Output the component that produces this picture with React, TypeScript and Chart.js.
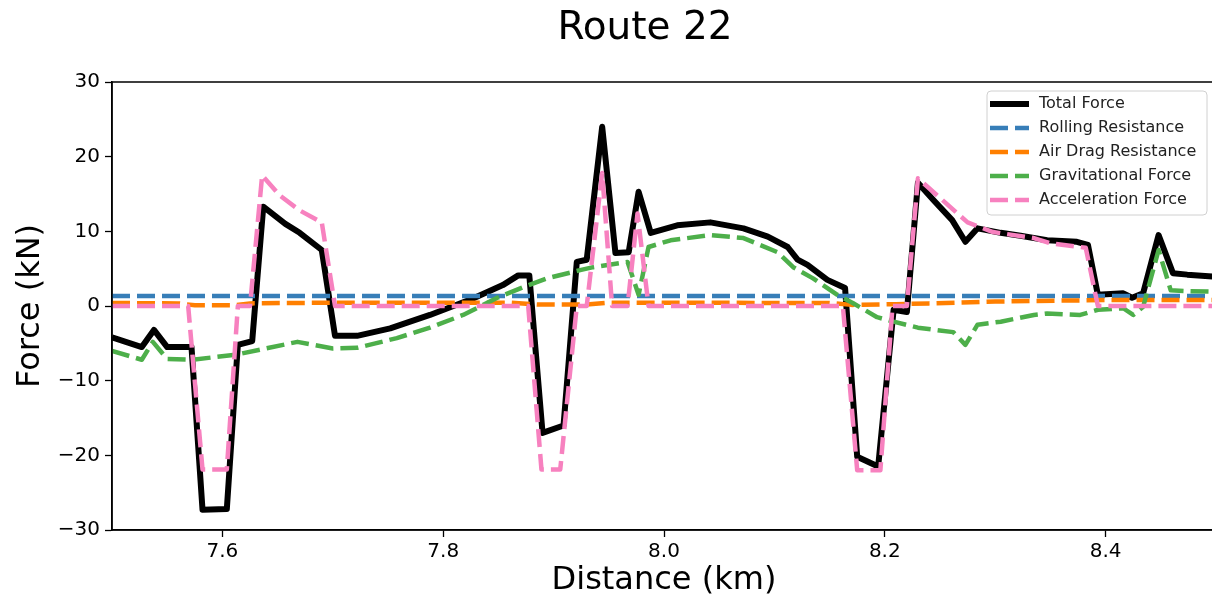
import React, { useEffect, useRef } from "react";
import { Chart, registerables } from "chart.js";

Chart.register(...registerables);

const chartTitle = "Route 22";
const xAxisTitle = "Distance (km)";
const yAxisTitle = "Force (kN)";
const xTicks = [7.6, 7.8, 8.0, 8.2, 8.4];
const yTicks = [-30, -20, -10, 0, 10, 20, 30];
const seriesNames = [
  "Total Force",
  "Rolling Resistance",
  "Air Drag Resistance",
  "Gravitational Force",
  "Acceleration Force",
];

const totalDist = [
  7.5, 7.527, 7.538, 7.55, 7.572, 7.582, 7.604, 7.614, 7.627, 7.637, 7.657, 7.67, 7.69,
  7.702, 7.722, 7.752, 7.788, 7.827, 7.854, 7.868, 7.878, 7.89, 7.909, 7.921, 7.93, 7.944,
  7.956, 7.968, 7.977, 7.988, 8.012, 8.042, 8.072, 8.094, 8.112, 8.121, 8.13, 8.148, 8.164,
  8.175, 8.194, 8.208, 8.22, 8.23, 8.244, 8.261, 8.273, 8.284, 8.305, 8.323, 8.347, 8.374,
  8.384, 8.393, 8.416, 8.424, 8.434, 8.448, 8.461, 8.474, 8.5,
];
const totalForce = [
  -4.2, -5.5, -3.2, -5.5, -5.5, -27.3, -27.2, -5.2, -4.7, 13.3, 11.0, 9.8, 7.5,
  -4.0, -4.0, -3.0, -1.2, 1.0, 2.8, 4.1, 4.1, -17.0, -16.0, 5.9, 6.2, 24.0,
  7.1, 7.2, 15.3, 9.8, 10.8, 11.2, 10.4, 9.3, 7.9, 6.2, 5.5, 3.5, 2.4,
  -20.2, -21.5, -0.5, -0.8, 16.5, 14.2, 11.5, 8.6, 10.4, 9.8, 9.4, 8.8, 8.6,
  8.2, 1.5, 1.7, 1.1, 1.7, 9.5, 4.4, 4.2, 3.9,
];

const rollingDist = [7.5, 8.5];
const rollingForce = [1.35, 1.35];

const airDist = [
  7.5, 7.56, 7.575, 7.61, 7.625, 7.7, 7.86, 7.885, 7.93, 7.95, 8.15, 8.17, 8.21, 8.24,
  8.3, 8.4, 8.5,
];
const airForce = [
  0.4, 0.35, 0.1, 0.1, 0.35, 0.45, 0.45, 0.2, 0.2, 0.45, 0.4, 0.15, 0.25, 0.35, 0.6,
  0.8, 0.8,
];

const gravDist = [
  7.5, 7.527, 7.537, 7.55, 7.573, 7.613, 7.668, 7.7, 7.722, 7.758, 7.788, 7.818, 7.849,
  7.862, 7.872, 7.894, 7.924, 7.936, 7.967, 7.977, 7.986, 8.006, 8.042, 8.072, 8.103,
  8.117, 8.135, 8.157, 8.171, 8.193, 8.208, 8.23, 8.262, 8.273, 8.284, 8.305, 8.335,
  8.347, 8.377, 8.393, 8.416, 8.425, 8.434, 8.448, 8.459, 8.474, 8.5,
];
const gravForce = [
  -6.0, -7.2, -4.8, -7.1, -7.2, -6.5, -4.8, -5.7, -5.6, -4.3, -2.9, -1.2, 1.1,
  1.9, 2.5, 3.7, 4.8, 5.2, 5.9, 1.5, 7.9, 8.8, 9.5, 9.1, 7.2,
  5.2, 3.7, 1.5, 0.4, -1.5, -2.1, -2.9, -3.5, -5.2, -2.5, -2.1, -1.2,
  -1.0, -1.2, -0.5, -0.3, -1.2, -0.1, 7.5, 2.1, 2.0, 1.9,
];

const accelDist = [
  7.5, 7.569, 7.582, 7.604, 7.614, 7.625, 7.636, 7.652, 7.67, 7.69, 7.702, 7.877, 7.889,
  7.906, 7.921, 7.93, 7.944, 7.953, 7.967, 7.976, 7.986, 8.162, 8.175, 8.196, 8.207,
  8.22, 8.23, 8.275, 8.298, 8.335, 8.35, 8.382, 8.393, 8.5,
];
const accelForce = [
  0, 0, -21.9, -21.9, 0, 0, 17.5, 14.8, 12.8, 11.2, 0, 0, -21.9,
  -21.9, 0, 0, 17.8, 0, 0, 12.4, 0, 0, -22, -22, 0,
  0, 17.1, 11.2, 9.9, 9.1, 8.4, 7.8, 0, 0,
];

const FONT = '"DejaVu Sans", "Liberation Sans", sans-serif';

const toPoints = (xs: number[], ys: number[]) => xs.map((x, i) => ({ x, y: ys[i] }));

const spinesPlugin = {
  id: "spines",
  afterDatasetsDraw(chart: any) {
    const { ctx, chartArea: a } = chart;
    ctx.save();
    ctx.strokeStyle = "#000";
    ctx.lineWidth = 1.5;
    ctx.beginPath();
    ctx.moveTo(a.left, a.bottom);
    ctx.lineTo(a.left, a.top);
    ctx.lineTo(a.right, a.top);
    ctx.lineTo(a.right, a.bottom);
    ctx.lineTo(a.left, a.bottom);
    ctx.stroke();
    ctx.restore();
  },
};

// Figure-level title (centred on the original, wider figure)
const figureTitlePlugin = {
  id: "figureTitle",
  afterDraw(chart: any) {
    const { ctx } = chart;
    ctx.save();
    ctx.font = `39px ${FONT}`;
    ctx.fillStyle = "#000";
    ctx.textAlign = "center";
    ctx.textBaseline = "middle";
    ctx.fillText(chartTitle, 645, 29);
    ctx.restore();
  },
};

const boxLegendPlugin = {
  id: "boxLegend",
  afterDraw(chart: any) {
    const { ctx, chartArea: a } = chart;
    const datasets = chart.data.datasets;
    const w = 220;
    const h = 124;
    const x0 = a.right - 9 - w;
    const y0 = a.top + 9;
    ctx.save();
    ctx.beginPath();
    ctx.roundRect(x0, y0, w, h, 4);
    ctx.fillStyle = "rgba(255,255,255,0.85)";
    ctx.fill();
    ctx.strokeStyle = "#d0d0d0";
    ctx.lineWidth = 1;
    ctx.stroke();
    ctx.font = `16px ${FONT}`;
    ctx.textBaseline = "middle";
    ctx.textAlign = "left";
    datasets.forEach((ds: any, i: number) => {
      const y = y0 + 13 + i * 24;
      ctx.save();
      ctx.strokeStyle = ds.borderColor;
      ctx.lineWidth = ds.borderWidth;
      ctx.setLineDash(ds.borderDash || []);
      ctx.lineCap = "butt";
      ctx.beginPath();
      ctx.moveTo(x0 + 3, y);
      ctx.lineTo(x0 + 42, y);
      ctx.stroke();
      ctx.restore();
      ctx.fillStyle = "#222";
      ctx.fillText(ds.label, x0 + 52, y);
    });
    ctx.restore();
  },
};

export default function App() {
  const canvasRef = useRef<HTMLCanvasElement>(null);

  useEffect(() => {
    const canvas = canvasRef.current;
    if (!canvas) return;
    Chart.defaults.font.family = FONT;
    const dash = [18, 7];
    const chart = new Chart(canvas, {
      type: "line",
      data: {
        datasets: [
          {
            label: seriesNames[0],
            data: toPoints(totalDist, totalForce),
            borderColor: "#000000",
            borderWidth: 6,
            order: 5,
          },
          {
            label: seriesNames[1],
            data: toPoints(rollingDist, rollingForce),
            borderColor: "#377eb8",
            borderWidth: 4.5,
            borderDash: dash,
            order: 4,
          },
          {
            label: seriesNames[2],
            data: toPoints(airDist, airForce),
            borderColor: "#ff7f00",
            borderWidth: 4.5,
            borderDash: dash,
            order: 3,
          },
          {
            label: seriesNames[3],
            data: toPoints(gravDist, gravForce),
            borderColor: "#4daf4a",
            borderWidth: 4.5,
            borderDash: dash,
            order: 2,
          },
          {
            label: seriesNames[4],
            data: toPoints(accelDist, accelForce),
            borderColor: "#f781bf",
            borderWidth: 4.5,
            borderDash: dash,
            order: 1,
          },
        ].map((d) => ({
          ...d,
          fill: false,
          tension: 0,
          pointRadius: 0,
          pointHoverRadius: 0,
          borderJoinStyle: "round" as const,
          borderCapStyle: "butt" as const,
          clip: 0,
        })),
      },
      options: {
        animation: false,
        responsive: false,
        devicePixelRatio: 1,
        layout: { padding: { left: 0, right: 0, top: 82, bottom: 0 } },
        plugins: {
          legend: { display: false },
          tooltip: { enabled: false },
          title: { display: false },
        },
        scales: {
          x: {
            type: "linear",
            min: 7.5,
            max: 8.5,
            afterBuildTicks: (axis: any) => {
              axis.ticks = xTicks.map((v) => ({ value: v }));
            },
            afterFit: (axis: any) => {
              axis.height = 75;
            },
            ticks: {
              autoSkip: false,
              maxRotation: 0,
              color: "#000",
              font: { size: 20, family: FONT },
              padding: 3,
              callback: (v: any) => Number(v).toFixed(1),
            },
            grid: {
              drawOnChartArea: false,
              drawTicks: true,
              tickLength: 7,
              tickWidth: 1.3,
              tickColor: "#000",
            },
            border: { display: true, color: "#000", width: 1.5 },
            title: {
              display: true,
              text: xAxisTitle,
              color: "#000",
              font: { size: 32, family: FONT, lineHeight: 1.2 },
              padding: { top: 0, bottom: 5 },
            },
          },
          y: {
            type: "linear",
            min: -30,
            max: 30,
            afterBuildTicks: (axis: any) => {
              axis.ticks = yTicks.map((v) => ({ value: v }));
            },
            afterFit: (axis: any) => {
              axis.width = 112;
            },
            ticks: {
              autoSkip: false,
              color: "#000",
              font: { size: 20, family: FONT },
              padding: 5,
              callback: (v: any) => (Number(v) < 0 ? "\u2212" + Math.abs(Number(v)) : String(v)),
            },
            grid: {
              drawOnChartArea: false,
              drawTicks: true,
              tickLength: 7,
              tickWidth: 1.3,
              tickColor: "#000",
            },
            border: { display: true, color: "#000", width: 1.5 },
            title: {
              display: true,
              text: yAxisTitle,
              color: "#000",
              font: { size: 32, family: FONT, lineHeight: 1.2 },
              padding: { top: 11, bottom: 0 },
            },
          },
        },
      },
      plugins: [spinesPlugin, figureTitlePlugin, boxLegendPlugin],
    });
    return () => chart.destroy();
  }, []);

  return (
    <div
      style={{
        position: "fixed",
        left: 0,
        top: 0,
        width: 1212,
        height: 605,
        overflow: "hidden",
        background: "#fff",
      }}
    >
      <canvas ref={canvasRef} width={1216} height={605} style={{ display: "block" }} />
    </div>
  );
}
